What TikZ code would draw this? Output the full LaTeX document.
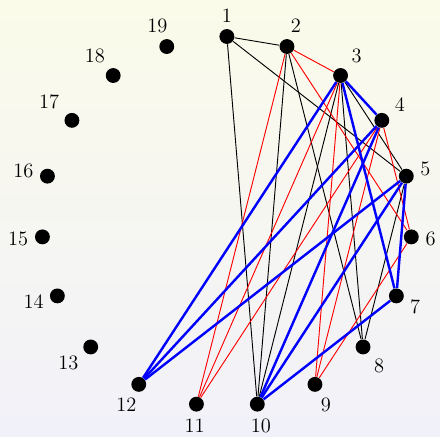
\documentclass[tikz,border=0pt]{standalone}
\definecolor{PaperTop}{HTML}{FBFBEA}
\definecolor{PaperBottom}{HTML}{F1F1F9}

\begin{document}
\begin{tikzpicture}[
  every label/.style={font=\fontsize{11}{13}\selectfont},
  vertex/.style={circle, fill=black, inner sep=0pt, minimum size=8pt},
  plainedge/.style={black, line width=0.5pt},
  rededge/.style={red, line width=0.5pt},
  blueedge/.style={blue, line width=1.3pt}]
  \shade[top color=PaperTop, bottom color=PaperBottom]
    (-4.29,-4.06) rectangle (4.03,4.19);
  \useasboundingbox (-4.29,-4.06) rectangle (4.03,4.19);

  \node[vertex, label={[anchor=270]90:1}] (v1) at (90:3.5) {};
  \node[vertex, label={[anchor=245]71.05:2}] (v2) at (71.05:3.5) {};
  \node[vertex, label={[anchor=230]52.11:3}] (v3) at (52.11:3.5) {};
  \node[vertex, label={[anchor=225]33.16:4}] (v4) at (33.16:3.5) {};
  \node[vertex, label={[anchor=203]14.21:5}] (v5) at (14.21:3.5) {};
  \node[vertex, label={[anchor=172]-4.74:6}] (v6) at (-4.74:3.5) {};
  \node[vertex, label={[anchor=145]-23.68:7}] (v7) at (-23.68:3.5) {};
  \node[vertex, label={[anchor=127]-42.63:8}] (v8) at (-42.63:3.5) {};
  \node[vertex, label={[anchor=118.42]-61.58:9}] (v9) at (-61.58:3.5) {};
  \node[vertex, label={[anchor=99.47]-80.53:10}] (v10) at (-80.53:3.5) {};
  \node[vertex, label={[anchor=88]-99.47:11}] (v11) at (-99.47:3.5) {};
  \node[vertex, label={[anchor=57]-118.42:12}] (v12) at (-118.42:3.5) {};
  \node[vertex, label={[anchor=32]-137.37:13}] (v13) at (-137.37:3.5) {};
  \node[vertex, label={[anchor=10]-156.32:14}] (v14) at (-156.32:3.5) {};
  \node[vertex, label={[anchor=4.74]-175.26:15}] (v15) at (-175.26:3.5) {};
  \node[vertex, label={[anchor=-10]165.79:16}] (v16) at (165.79:3.5) {};
  \node[vertex, label={[anchor=-40]146.84:17}] (v17) at (146.84:3.5) {};
  \node[vertex, label={[anchor=-45]127.89:18}] (v18) at (127.89:3.5) {};
  \node[vertex, label={[anchor=-63]108.95:19}] (v19) at (108.95:3.5) {};

  % black class
  \draw[plainedge] (v1) -- (v2);
  \draw[plainedge] (v1) -- (v5);
  \draw[plainedge] (v1) -- (v10);
  \draw[plainedge] (v2) -- (v10);
  \draw[plainedge] (v2) -- (v8);
  \draw[plainedge] (v3) -- (v5);
  \draw[plainedge] (v3) -- (v10);
  \draw[plainedge] (v3) -- (v8);
  \draw[plainedge] (v5) -- (v8);

  % red class
  \draw[rededge] (v2) -- (v3);
  \draw[rededge] (v2) -- (v11);
  \draw[rededge] (v2) -- (v6);
  \draw[rededge] (v3) -- (v11);
  \draw[rededge] (v3) -- (v9);
  \draw[rededge] (v4) -- (v11);
  \draw[rededge] (v4) -- (v9);
  \draw[rededge] (v4) -- (v6);
  \draw[rededge] (v6) -- (v9);

  % blue class
  \draw[blueedge] (v3) -- (v4);
  \draw[blueedge] (v3) -- (v12);
  \draw[blueedge] (v3) -- (v7);
  \draw[blueedge] (v4) -- (v12);
  \draw[blueedge] (v4) -- (v10);
  \draw[blueedge] (v5) -- (v12);
  \draw[blueedge] (v5) -- (v10);
  \draw[blueedge] (v5) -- (v7);
  \draw[blueedge] (v7) -- (v10);
\end{tikzpicture}
\end{document}
